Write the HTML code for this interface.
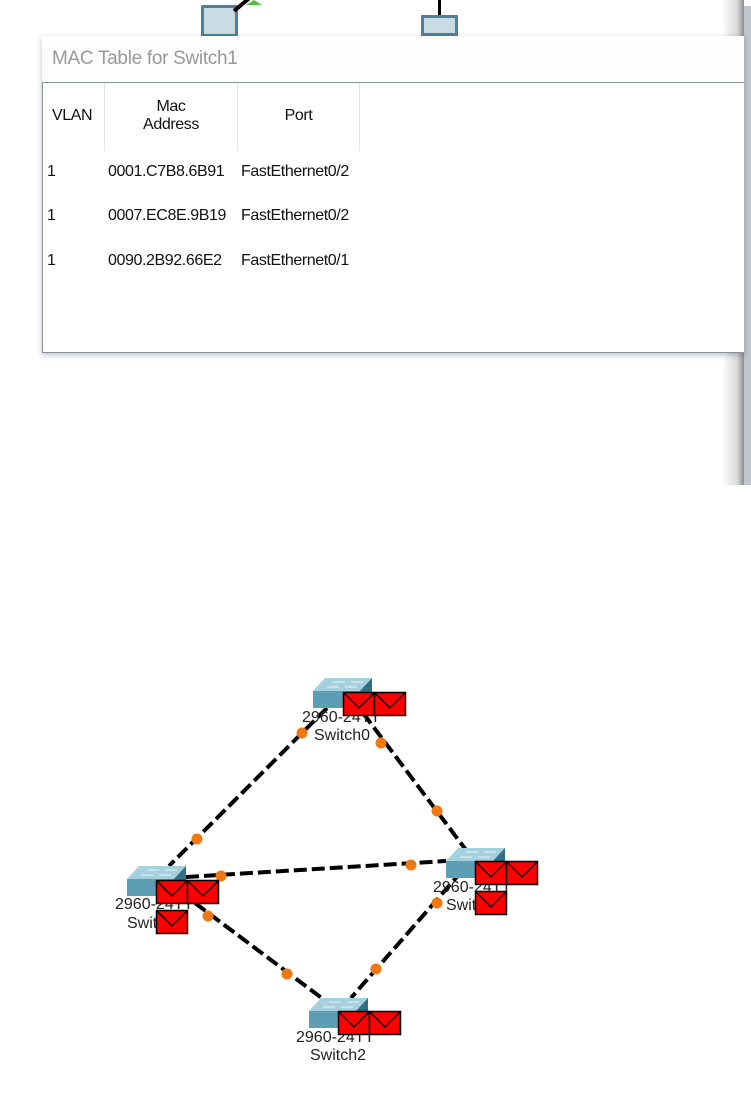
<!DOCTYPE html>
<html><head><meta charset="utf-8"><style>
body{margin:0;width:751px;height:1104px;background:#fff;position:relative;overflow:hidden;font-family:"Liberation Sans",sans-serif}
.abs{position:absolute}
.t{position:absolute;font-size:16px;color:#111;letter-spacing:-0.4px}
</style></head><body>
<div class="abs" style="left:201px;top:5px;width:37px;height:32px;background:#c9dbe3;border:3px solid #4f8298;box-sizing:border-box;border-radius:2px"></div>
<div class="abs" style="left:234px;top:9px;width:22px;height:4px;background:#000;transform:rotate(-40deg);transform-origin:left"></div>
<div class="abs" style="left:246px;top:0;width:0;height:0;border-left:8px solid transparent;border-right:8px solid transparent;border-bottom:5px solid #52c23a"></div>
<div class="abs" style="left:438px;top:0;width:3px;height:18px;background:#000"></div>
<div class="abs" style="left:421px;top:15px;width:37px;height:21px;background:#c9dbe3;border:3px solid #4f8298;box-sizing:border-box"></div>
<div class="abs" style="left:722px;top:0;width:22px;height:485px;background:linear-gradient(to right,rgba(0,0,0,0),rgba(0,0,0,0.15) 70%,rgba(0,0,0,0.45))"></div>
<div class="abs" style="left:744px;top:6px;width:7px;height:479px;background:#c1c4cf"></div>
<div class="abs" style="left:42px;top:36px;width:702px;height:317px;background:#fff;box-shadow:0 2px 6px rgba(0,0,0,0.25)">
 <div style="height:46px;border-bottom:1px solid #8a8f99;background:#fdfdfd;color:#999;font-size:19px;line-height:46px;padding-left:10px;letter-spacing:-0.3px">MAC Table for Switch1</div>
 <div style="position:absolute;left:0;top:47px;bottom:0;width:1px;background:#8a8f99"></div>
 <div style="position:absolute;left:0;right:0;bottom:0;height:1px;background:#8a8f99"></div>
 <div style="position:absolute;left:62px;top:47px;width:1px;height:68px;background:#e4e4e4"></div>
 <div style="position:absolute;left:195px;top:47px;width:1px;height:68px;background:#e4e4e4"></div>
 <div style="position:absolute;left:317px;top:47px;width:1px;height:68px;background:#e4e4e4"></div>
 <div class="t" style="left:10px;top:71px">VLAN</div>
 <div class="t" style="left:63px;top:62px;width:132px;text-align:center;line-height:18px">Mac<br>Address</div>
 <div class="t" style="left:196px;top:71px;width:121px;text-align:center">Port</div>
 <div class="t" style="left:5px;top:127px">1</div>
 <div class="t" style="left:5px;top:171px">1</div>
 <div class="t" style="left:5px;top:216px">1</div>
 <div class="t" style="left:66px;top:127px">0001.C7B8.6B91</div>
 <div class="t" style="left:66px;top:171px">0007.EC8E.9B19</div>
 <div class="t" style="left:66px;top:216px">0090.2B92.66E2</div>
 <div class="t" style="left:199px;top:127px">FastEthernet0/2</div>
 <div class="t" style="left:199px;top:171px">FastEthernet0/2</div>
 <div class="t" style="left:199px;top:216px">FastEthernet0/1</div>
</div>
<svg class="abs" style="left:0;top:0" width="751" height="1104">
<defs>
 <g id="sw">
  <polygon points="12,0 59,0 59,15 47,15 0,15" fill="#8fc2d2"/>
  <polygon points="12,0 59,0 47,13 0,13" fill="#a5d0dd"/>
  <path d="M20,4 h12 M38,4 h12 M14,9 h12 M32,9 h12" stroke="#e8f4f8" stroke-width="1"/>
  <rect x="0" y="13" width="47" height="17" fill="#5c9fb4"/>
  <polygon points="47,13 59,0 59,17 47,30" fill="#2f7185"/>
 </g>
 <g id="env">
  <rect x="0.5" y="0.5" width="31" height="23" fill="#f00" stroke="#000" stroke-width="1.5"/>
  <path d="M1,1 L16,16 L31,1" fill="none" stroke="#000" stroke-width="1.3"/>
 </g>
</defs>
<g stroke="#000" stroke-width="4" stroke-dasharray="13,5" fill="none">
 <line x1="327" y1="708" x2="169" y2="866"/>
 <line x1="363" y1="713" x2="466" y2="850"/>
 <line x1="186" y1="877" x2="446" y2="861"/>
 <line x1="195" y1="903" x2="323" y2="999"/>
 <line x1="462" y1="871" x2="351" y2="998"/>
</g>
<g fill="#f07812">
 <circle cx="302" cy="733" r="5.5"/><circle cx="197" cy="839" r="5.5"/>
 <circle cx="381" cy="743" r="5.5"/><circle cx="437" cy="811" r="5.5"/>
 <circle cx="221" cy="876" r="5.5"/><circle cx="411" cy="865" r="5.5"/>
 <circle cx="208" cy="916" r="5.5"/><circle cx="287" cy="974" r="5.5"/>
 <circle cx="437" cy="903" r="5.5"/><circle cx="376" cy="969" r="5.5"/>
</g>
<use href="#sw" x="313" y="678"/>
<use href="#sw" x="446" y="848"/>
<use href="#sw" x="127" y="866"/>
<use href="#sw" x="309" y="998"/>
<g font-family="Liberation Sans, sans-serif" font-size="16" fill="#222">
 <text x="302" y="722">2960-24TT</text><text x="342" y="740" text-anchor="middle">Switch0</text>
 <text x="433" y="892">2960-24TT</text><text x="474" y="910" text-anchor="middle">Switch1</text>
 <text x="115" y="909">2960-24TT</text><text x="155" y="928" text-anchor="middle">Switch3</text>
 <text x="296" y="1042">2960-24TT</text><text x="338" y="1060" text-anchor="middle">Switch2</text>
</g>
<use href="#env" x="343" y="692"/><use href="#env" x="374" y="692"/>
<use href="#env" x="475" y="861"/><use href="#env" x="506" y="861"/><use href="#env" x="475" y="891"/>
<use href="#env" x="156" y="880"/><use href="#env" x="187" y="880"/><use href="#env" x="156" y="910"/>
<use href="#env" x="338" y="1011"/><use href="#env" x="369" y="1011"/>
</svg>
</body></html>
